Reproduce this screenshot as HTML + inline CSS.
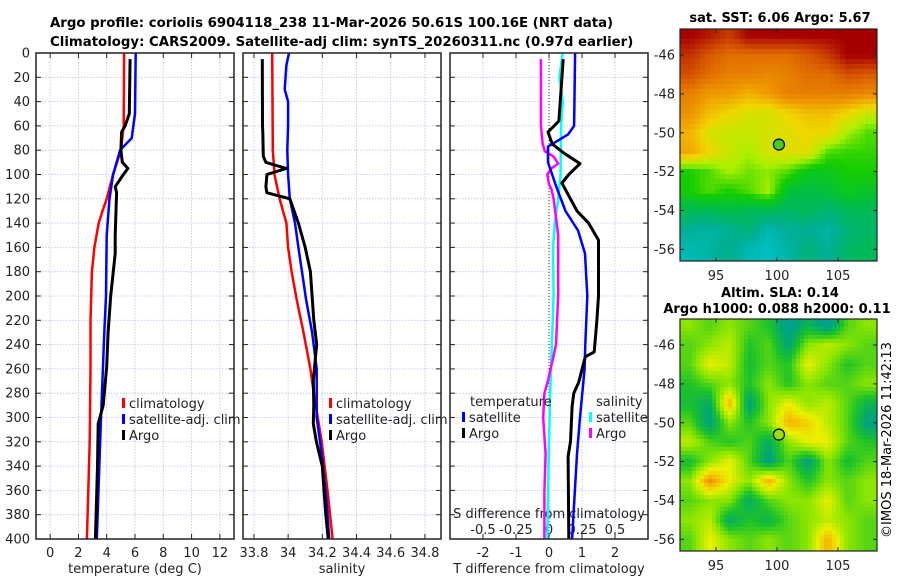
<!DOCTYPE html>
<html><head><meta charset="utf-8"><style>
html,body{margin:0;padding:0;background:#fff;}
svg{display:block;font-family:"DejaVu Sans","Liberation Sans",sans-serif;}
</style></head><body>
<svg id="fig" width="900" height="580" viewBox="0 0 900 580" xmlns="http://www.w3.org/2000/svg">
<defs>
<clipPath id="c1"><rect x="36" y="53" width="198" height="486"/></clipPath>
<clipPath id="c2"><rect x="243" y="53" width="198" height="486"/></clipPath>
<clipPath id="c3"><rect x="450" y="53" width="198" height="486"/></clipPath>
<clipPath id="cm1"><rect x="680" y="29" width="197" height="232"/></clipPath>
<clipPath id="cm2"><rect x="680" y="319" width="197" height="232"/></clipPath>
</defs>
<text x="50" y="27" font-size="13.3" font-weight="bold">Argo profile: coriolis 6904118_238 11-Mar-2026 50.61S 100.16E (NRT data)</text>
<text x="50" y="46" font-size="13.3" font-weight="bold">Climatology: CARS2009. Satellite-adj clim: synTS_20260311.nc (0.97d earlier)</text>
<text x="780" y="22" font-size="13" font-weight="bold" text-anchor="middle">sat. SST: 6.06 Argo: 5.67</text>
<text x="780" y="297" font-size="13" font-weight="bold" text-anchor="middle">Altim. SLA: 0.14</text>
<text x="777" y="313" font-size="13" font-weight="bold" text-anchor="middle">Argo h1000: 0.088 h2000: 0.11</text>
<text transform="translate(891,440) rotate(-90)" font-size="13" text-anchor="middle">©IMOS 18-Mar-2026 11:42:13</text>
<g id="layer"></g>
</svg>
<script>
// ---------- data ----------
const tClimDepth = [0,60,80,100,120,130,140,160,180,220,260,320,400];
const tClimVal   = [5.23,5.2,5.0,4.45,4.0,3.7,3.43,3.13,2.95,2.85,2.85,2.8,2.6];
const tSatDepth  = [0,50,70,80,100,120,150,200,230,305,400];
const tSatVal    = [6.05,6.0,5.77,4.95,4.45,4.2,4.0,3.95,3.83,3.58,3.3];
const tArgoDepth = [5,50,60,65,80,90,95,100,110,115,150,165,200,230,258,290,305,340,400];
const tArgoVal   = [5.65,5.6,5.3,5.05,5.0,5.1,5.5,5.18,4.6,4.7,4.6,4.6,4.28,4.1,4.0,3.75,3.4,3.35,3.2];

const sClimDepth = [0,80,100,120,140,160,180,203,230,260,280,320,360,400];
const sClimVal   = [33.907,33.91,33.92,33.95,33.99,34.0,34.02,34.05,34.09,34.13,34.15,34.196,34.23,34.26];
const sSatDepth  = [0,10,30,40,60,80,100,120,140,160,203,230,260,300,330,370,400];
const sSatVal    = [34.005,33.99,33.98,34.0,34.0,33.995,34.0,34.01,34.04,34.06,34.105,34.14,34.167,34.167,34.196,34.225,34.24];
const sArgoDepth = [5,60,65,85,90,95,100,110,115,120,140,160,180,200,220,240,250,270,290,305,320,340,360,380,400];
const sArgoVal   = [33.849,33.85,33.852,33.855,33.87,33.99,33.876,33.87,33.875,34.01,34.06,34.1,34.13,34.14,34.15,34.167,34.16,34.147,34.15,34.147,34.165,34.2,34.21,34.22,34.234];

const dTSatDepth  = [0,60,67,77,90,110,130,146,165,200,240,260,300,330,400];
const dTSatVal    = [0.79,0.76,0.58,-0.03,-0.03,0.22,0.5,0.88,1.09,1.16,1.1,1.08,0.94,0.85,0.7];
const dTArgoDepth = [5,56,65,75,82,91,100,107,115,130,140,154,200,220,246,250,271,280,291,320,332,400];
const dTArgoVal   = [0.43,0.3,-0.03,0.1,0.43,0.94,0.6,0.39,0.55,0.85,1.2,1.5,1.5,1.45,1.37,1.1,0.9,0.75,0.7,0.65,0.58,0.6];
const dSArgoDepth = [5,60,75,81,85,91,95,100,108,112,120,150,200,240,250,270,280,300,330,360,400];
const dSArgoVal   = [-0.061,-0.061,-0.048,-0.031,0.033,0.07,0.018,-0.013,0.0,0.018,0.035,0.07,0.07,0.053,0.033,-0.009,-0.035,-0.044,-0.026,-0.035,-0.035];
const dSSatDepth  = [0,20,40,60,100,120,140,160,200,250,280,320,400];
const dSSatVal    = [0.104,0.079,0.104,0.092,0.088,0.07,0.044,0.031,0.035,0.018,0.009,0.0,-0.013];

const depthTicks = [0,20,40,60,80,100,120,140,160,180,200,220,240,260,280,300,320,340,360,380,400];
const tTicks = [0,2,4,6,8,10,12];
const sTicks = [33.8,34,34.2,34.4,34.6,34.8];
const sTickLabels = ["33.8","34","34.2","34.4","34.6","34.8"];
const dTTicks = [-2,-1,0,1,2];
const dSTicks = [-0.5,-0.25,0,0.25,0.5];
const dSTickLabels = ["-0.5","-0.25","0","0.25","0.5"];
const latTicks = [-46,-48,-50,-52,-54,-56];
const lonTicks = [95,100,105];

const sstLat = [-45,-46,-47,-48,-49,-50,-51,-52,-53,-54,-55,-56];
const sstGrid = [
 [8,7.8,7.5,8,8,8,8,8,8,8],
 [7.6,7.2,7,7,7,7,7.2,7.5,8,8],
 [7.3,7,6.8,6.8,6.7,6.8,7,7,7.3,7.2],
 [6.8,6.5,6.5,6.3,6.5,6.8,6.8,6.8,6.8,6.7],
 [6.6,6.2,6,5.8,5.8,6,6.2,6.2,6,5.7],
 [6.3,5.8,5.7,5.7,5.8,5.9,6,6,5.5,5.2],
 [6.4,6,5.7,5.5,5.8,5.9,5.9,5.2,5.1,5.1],
 [5,5.2,5.5,5.3,5.4,5.2,4.8,4.8,5,5],
 [5,5.2,5,5.2,5.5,4.6,4.5,4.6,4.8,4.7],
 [4.4,4.4,4.5,4.4,4.4,4.3,4.4,4.2,4.4,4.4],
 [4,3.9,4,4.2,3.8,4,4,3.9,4.2,4.3],
 [3.8,3.9,4.1,3.8,3.7,3.9,4.2,4,4.3,4.4]];
const slaGrid = [
 [0.1,0.05,0.1,0.05,0,-0.15,-0.05,-0.15,0.05,0.1],
 [0.05,0.1,0.15,0,0.05,-0.1,0.1,0.15,0.1,0.05],
 [0.05,0.2,0.15,-0.02,0.05,0,0.2,0.1,0,0.05],
 [0,0.05,0.1,0.0,0.1,0,0.1,0.05,0.05,0.1],
 [-0.02,-0.08,0.3,-0.12,0.1,0.2,0.1,0.15,0.05,-0.05],
 [0.05,-0.12,0.1,0.0,0.1,0.3,0.25,0.15,0.05,-0.12],
 [0.15,0.05,0,0.05,-0.08,0.1,0.2,0.2,0.05,0],
 [-0.02,0.1,0.2,0.05,-0.12,0.05,-0.12,0.1,-0.02,0.05],
 [0.1,0.35,0.2,0.1,0.3,0.1,0,0.1,0.05,0.1],
 [0.05,0.1,0.1,-0.08,0.05,0.1,0.1,0.2,0.05,0.1],
 [0.1,0.15,-0.08,0,-0.05,0.05,0.1,0.15,0.1,0.05],
 [0.05,0.2,0.1,0.05,0.1,0.05,0.1,0.3,0.1,0.05]];
const argoLon = 100.16, argoLat = -50.61;

// ---------- helpers ----------
const NS="http://www.w3.org/2000/svg";
const layer=document.getElementById('layer');
function el(tag,attrs,parent){const e=document.createElementNS(NS,tag);for(const k in attrs)e.setAttribute(k,attrs[k]);(parent||layer).appendChild(e);return e;}
const Y0=53,Y1=539;
const yD=d=>Y0+(d/400)*(Y1-Y0);
const panels=[
 {x0:36,x1:234,min:-1,max:13},
 {x0:243,x1:441,min:33.736,max:34.894},
 {x0:450,x1:648,min:-3,max:3}];
function xs(p,v){return p.x0+(v-p.min)/(p.max-p.min)*(p.x1-p.x0);}
const xSdiff=v=>549+132*v;

function drawPanel(i,p,gridVals){
 const g=el('g',{});
 
 
 for(const d of depthTicks){if(d===0||d===400)continue;
  const l=el('line',{x1:p.x0,x2:p.x1,y1:yD(d),y2:yD(d),stroke:'#b9c3e6','stroke-width':0.8,'stroke-dasharray':'1.5,1.5'},g);
  }
 for(const v of gridVals){const x=xs(p,v);
  const l=el('line',{x1:x,x2:x,y1:Y0,y2:Y1,stroke:'#b9c3e6','stroke-width':0.8,'stroke-dasharray':'1.5,1.5'},g);
  }
 for(const d of depthTicks){
  el('line',{x1:p.x0,x2:p.x0+5,y1:yD(d),y2:yD(d),stroke:'#222','stroke-width':1},g);
  el('line',{x1:p.x1-5,x2:p.x1,y1:yD(d),y2:yD(d),stroke:'#222','stroke-width':1},g);}
 for(const v of gridVals){const x=xs(p,v);
  el('line',{x1:x,x2:x,y1:Y1-5,y2:Y1,stroke:'#222','stroke-width':1},g);
  el('line',{x1:x,x2:x,y1:Y0,y2:Y0+5,stroke:'#222','stroke-width':1},g);}
 return g;
}
function frame(p,i){const r=el('rect',{x:p.x0,y:Y0,width:p.x1-p.x0,height:Y1-Y0,fill:'none',stroke:'#222','stroke-width':1.5});
 }
function line(depths,vals,xf,color,w,clip,name){
 const pts=depths.map((d,k)=>xf(vals[k]).toFixed(1)+','+yD(d).toFixed(1)).join(' ');
 const pl=el('polyline',{points:pts,fill:'none',stroke:color,'stroke-width':w,'stroke-linejoin':'round','clip-path':'url(#'+clip+')'});
 
 
}
function txt(x,y,s,attrs,name){const t=el('text',Object.assign({x:x,y:y,'font-size':13,fill:'#222'},attrs||{}));t.textContent=s;
 
 return t;}

const p1=panels[0],p2=panels[1],p3=panels[2];
drawPanel(0,p1,tTicks);
drawPanel(1,p2,sTicks);
drawPanel(2,p3,dTTicks);
el('line',{x1:549,x2:549,y1:Y0,y2:Y1,stroke:'#333','stroke-width':1,'stroke-dasharray':'1,2'});

for(const d of depthTicks) txt(30,yD(d)+4.5,String(d),{'text-anchor':'end'},'depth-tick-label');
tTicks.forEach(v=>txt(xs(p1,v),557,String(v),{'text-anchor':'middle'},'temp-tick-label'));
sTicks.forEach((v,k)=>txt(xs(p2,v),557,sTickLabels[k],{'text-anchor':'middle'},'sal-tick-label'));
dTTicks.forEach(v=>txt(xs(p3,v),557,String(v),{'text-anchor':'middle'},'tdiff-tick-label'));
dSTicks.forEach((v,k)=>txt(xSdiff(v),534,dSTickLabels[k],{'text-anchor':'middle'},'sdiff-tick-label'));
txt(135,573,'temperature (deg C)',{'text-anchor':'middle'},'temp-axis-title');
txt(342,573,'salinity',{'text-anchor':'middle'},'sal-axis-title');
txt(549,573,'T difference from climatology',{'text-anchor':'middle'},'tdiff-axis-title');
txt(549,518,'S difference from climatology',{'text-anchor':'middle'},'sdiff-axis-title');

line(tClimDepth,tClimVal,v=>xs(p1,v),'#f00',2.5,'c1','temp-climatology-line');
line(tSatDepth,tSatVal,v=>xs(p1,v),'#00f',2.5,'c1','temp-satellite-line');
line(tArgoDepth,tArgoVal,v=>xs(p1,v),'#000',3,'c1','temp-argo-line');
line(sClimDepth,sClimVal,v=>xs(p2,v),'#f00',2.5,'c2','sal-climatology-line');
line(sSatDepth,sSatVal,v=>xs(p2,v),'#00f',2.5,'c2','sal-satellite-line');
line(sArgoDepth,sArgoVal,v=>xs(p2,v),'#000',3,'c2','sal-argo-line');
line(dSSatDepth,dSSatVal,xSdiff,'#0ff',2.5,'c3','sdiff-satellite-line');
line(dSArgoDepth,dSArgoVal,xSdiff,'#f0f',2.5,'c3','sdiff-argo-line');
line(dTSatDepth,dTSatVal,v=>xs(p3,v),'#00f',2.5,'c3','tdiff-satellite-line');
line(dTArgoDepth,dTArgoVal,v=>xs(p3,v),'#000',3,'c3','tdiff-argo-line');

panels.forEach(frame);

function legEntry(x,y,color,label,name){
 const g=el('g',{});
 
 
 el('rect',{x:x,y:y-10,width:3,height:10,fill:color},g);
 const t=el('text',{x:x+7,y:y,'font-size':13,fill:'#222'},g);t.textContent=label;}
[[p1,122],[p2,329]].forEach(([p,x],k)=>{
 legEntry(x,408,'#f00','climatology','legend-climatology-'+(k+1));
 legEntry(x,424,'#00f','satellite-adj. clim','legend-satellite-'+(k+1));
 legEntry(x,440,'#000','Argo','legend-argo-'+(k+1));});
txt(470,406,'temperature',{},'legend-temperature-header');
legEntry(462,422,'#00f','satellite','legend-tdiff-satellite');
legEntry(462,438,'#000','Argo','legend-tdiff-argo');
txt(596,406,'salinity',{},'legend-salinity-header');
legEntry(589,422,'#0ff','satellite','legend-sdiff-satellite');
legEntry(589,438,'#f0f','Argo','legend-sdiff-argo');

// ---------- maps ----------
const LON0=92.05,LON1=108.2,LAT0=-44.66,LAT1=-56.6;
function mx(lon){return 680+(lon-LON0)/(LON1-LON0)*197;}
function my(top,lat){return top+(LAT0-lat)/(LAT0-LAT1)*232;}
function cmap(stops,v){
 if(v<=stops[0][0])return 'rgb('+stops[0][1].join(',')+')';
 for(let k=1;k<stops.length;k++){if(v<=stops[k][0]){const a=stops[k-1],b=stops[k],f=(v-a[0])/(b[0]-a[0]);
  return 'rgb('+a[1].map((c,j)=>Math.round(c+(b[1][j]-c)*f)).join(',')+')';}}
 return 'rgb('+stops[stops.length-1][1].join(',')+')';}
const sstStops=[[3.5,[0,200,225]],[4,[0,175,150]],[4.5,[0,190,70]],[5,[20,205,0]],[5.5,[170,240,0]],[6,[240,215,0]],[6.5,[240,155,0]],[7,[225,110,0]],[7.5,[200,60,0]],[8,[165,0,0]]];
const slaStops=[[-0.2,[0,160,170]],[-0.1,[0,165,120]],[0,[30,195,40]],[0.1,[140,230,0]],[0.2,[235,240,0]],[0.3,[245,175,0]],[0.4,[225,110,0]]];

function sample(grid,lon,lat){
 const nr=grid.length,nc=grid[0].length,cw=(LON1-LON0)/nc;
 let fc=(lon-LON0)/cw-0.5, fr=(sstLat[0]-lat);
 fc=Math.max(0,Math.min(nc-1,fc)); fr=Math.max(0,Math.min(nr-1,fr));
 const c0=Math.floor(fc),r0=Math.floor(fr),c1=Math.min(nc-1,c0+1),r1=Math.min(nr-1,r0+1);
 const tx=fc-c0,ty=fr-r0;
 const a=grid[r0][c0]*(1-tx)+grid[r0][c1]*tx, b=grid[r1][c0]*(1-tx)+grid[r1][c1]*tx;
 return a*(1-ty)+b*ty;
}
function drawMap(top,grid,stops,clip,step,name){
 const g=el('g',{'clip-path':'url(#'+clip+')','shape-rendering':'crispEdges'});
 
 
 for(let y=top;y<top+232;y+=step)for(let x=680;x<877;x+=step){
  const lon=LON0+(x+step/2-680)/197*(LON1-LON0);
  const lat=LAT0-(y+step/2-top)/232*(LAT0-LAT1);
  const cell=el('rect',{x:x,y:y,width:step+0.5,height:step+0.5,fill:cmap(stops,sample(grid,lon,lat))},g);
  
  
 }
 el('rect',{x:680,y:top,width:197,height:232,fill:'none',stroke:'#222','stroke-width':1.2});
 const lx=mx(argoLon),ly=my(top,argoLat);
 const c=el('circle',{cx:lx,cy:ly,r:5.5,fill:top<100?'#44cc22':'#99dd11',stroke:'#000','stroke-width':1.2});
 
 
 for(const lat of latTicks){const y=my(top,lat);
  el('line',{x1:680,x2:684,y1:y,y2:y,stroke:'#222'});el('line',{x1:873,x2:877,y1:y,y2:y,stroke:'#222'});
  txt(675,y+4.5,String(lat),{'text-anchor':'end'},'lat-tick-label');}
 for(const lon of lonTicks){const x=mx(lon);
  el('line',{x1:x,x2:x,y1:top+228,y2:top+232,stroke:'#222'});el('line',{x1:x,x2:x,y1:top,y2:top+4,stroke:'#222'});
  txt(x,top+251,String(lon),{'text-anchor':'middle'},'lon-tick-label');}
}
drawMap(29,sstGrid,sstStops,'cm1',5,'sst-map');
drawMap(319,slaGrid,slaStops,'cm2',4,'sla-map');
</script>
</body></html>
